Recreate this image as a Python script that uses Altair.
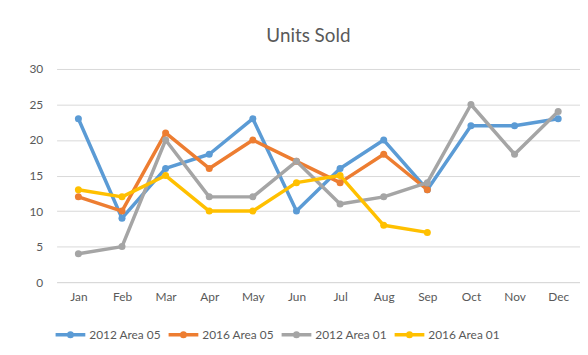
import altair as alt
import pandas as pd

months = ["Jan", "Feb", "Mar", "Apr", "May", "Jun", "Jul", "Aug", "Sep", "Oct", "Nov", "Dec"]
series_names = ["2012 Area 05", "2016 Area 05", "2012 Area 01", "2016 Area 01"]
s2012_a05 = [23, 9, 16, 18, 23, 10, 16, 20, 13, 22, 22, 23]
s2016_a05 = [12, 10, 21, 16, 20, 17, 14, 18, 13]
s2012_a01 = [4, 5, 20, 12, 12, 17, 11, 12, 14, 25, 18, 24]
s2016_a01 = [13, 12, 15, 10, 10, 14, 15, 8, 7]
colors = ["#5B9BD5", "#ED7D31", "#A5A5A5", "#FFC000"]

rows = []
for name, vals in zip(series_names, [s2012_a05, s2016_a05, s2012_a01, s2016_a01]):
    for m, v in zip(months, vals):
        rows.append({"Month": m, "Series": name, "Units": v, "order": series_names.index(name)})
df = pd.DataFrame(rows)

FONT = "Lato"
GRAY = "#595959"
legend_symbol = "M-1,0H1M-0.12,0a0.12,0.12 0 1,0 0.24,0a0.12,0.12 0 1,0 -0.24,0"

x = alt.X("Month:N", sort=months, title=None,
          scale=alt.Scale(type="point", padding=0.5),
          axis=alt.Axis(labelAngle=0, ticks=False, domain=True, domainColor="#D9D9D9",
                        labelColor=GRAY, labelFont=FONT, labelFontSize=12, labelPadding=10, grid=False))
y = alt.Y("Units:Q", title=None,
          scale=alt.Scale(domain=[0, 30], nice=False),
          axis=alt.Axis(values=[0, 5, 10, 15, 20, 25, 30], ticks=False, domain=False,
                        gridColor="#D9D9D9", labelColor=GRAY, labelFont=FONT,
                        labelFontSize=12, labelPadding=14))
color = alt.Color("Series:N", sort=series_names,
                  scale=alt.Scale(domain=series_names, range=colors),
                  legend=alt.Legend(title=None, orient="none", direction="horizontal",
                                    legendX=-3, legendY=251,
                                    symbolType=legend_symbol, symbolSize=900,
                                    symbolStrokeWidth=3.5, labelFont=FONT, labelFontSize=12,
                                    labelColor=GRAY, columnPadding=0, labelOffset=2))

base = alt.Chart(df)
lines = base.mark_line(strokeWidth=3.5, strokeCap="round", strokeJoin="round").encode(
    x=x, y=y, color=color, detail="Series:N", order="order:Q")
points = base.mark_circle(size=50, opacity=1).encode(
    x=x, y=y, color=alt.Color("Series:N", sort=series_names,
                              scale=alt.Scale(domain=series_names, range=colors), legend=None))

chart = alt.layer(lines, points).properties(
    width=528, height=215,
    title=alt.Title("Units Sold", font=FONT, fontSize=19, fontWeight="normal",
                    color=GRAY, offset=17, dx=-10),
    autosize=alt.AutoSizeParams(type="none"),
    padding={"left": 49, "top": 60, "right": 0, "bottom": 72},
).configure_view(stroke=None)

chart.save("out.html", embed_options={"renderer": "svg", "actions": False})
